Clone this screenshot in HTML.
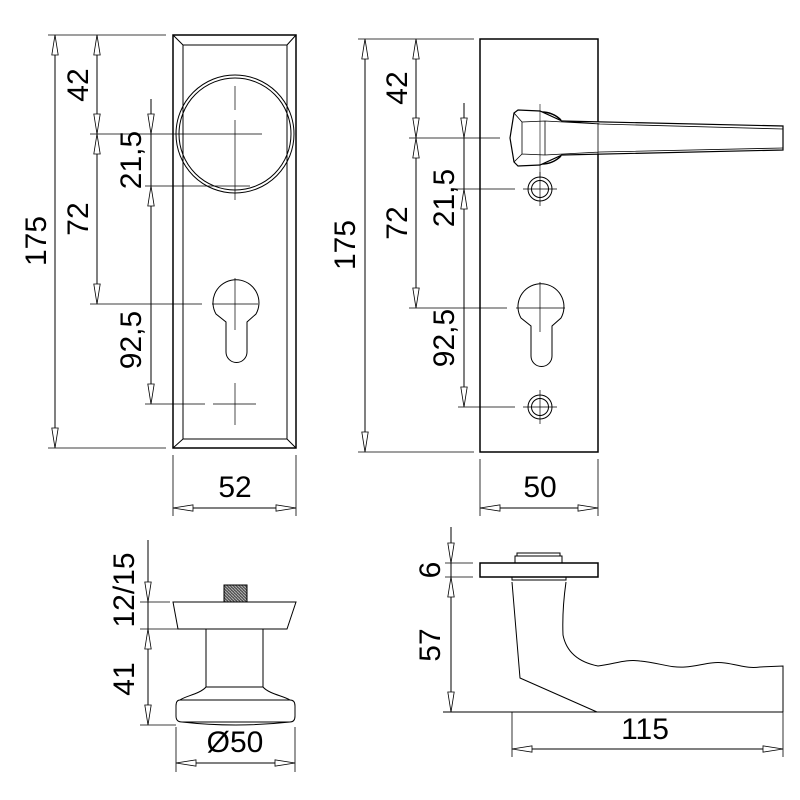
<!DOCTYPE html>
<html><head><meta charset="utf-8"><style>
body{margin:0;background:#fff}
svg{display:block}
text{font-family:"Liberation Sans",sans-serif;font-size:30px;fill:#000}
</style></head><body>
<svg width="800" height="800" viewBox="0 0 800 800" xmlns="http://www.w3.org/2000/svg">
<defs>
<marker id="a" markerUnits="userSpaceOnUse" markerWidth="24" markerHeight="10" viewBox="-22 -5 24 10" refX="0" refY="0" orient="auto-start-reverse">
<path d="M0,0 L-20,-3.2 L-20,3.2 Z" fill="#fff" stroke="#000" stroke-width="0.8"/>
</marker>
<pattern id="h" width="3" height="3" patternUnits="userSpaceOnUse"><rect width="3" height="3" fill="#555"/><path d="M0 0L3 3" stroke="#bbb" stroke-width="0.8"/></pattern>
</defs>
<g fill="none" stroke="#000" stroke-width="1">
<rect x="173" y="35" width="123" height="413" stroke-width="1.5"/>
<rect x="183" y="45" width="104" height="394"/>
<path d="M173 35L183 45M296 35L287 45M173 448L183 439M296 448L287 439"/>
<circle cx="235" cy="134" r="59"/>
<circle cx="235" cy="134" r="56"/>
<path d="M200 134H262M235 86V110M235 120V200" stroke-width="0.7"/>
<path d="M213 304A23 23 0 1 1 256 314L247 322V352A10.5 10.5 0 0 1 226 352V322L216 314A23 23 0 0 1 213 304Z"/>
<path d="M212 304H258M235 278V330" stroke-width="0.7"/>
<path d="M213 404H256M235 383V425" stroke-width="0.7"/>
<path d="M48 35H166M48 448H166M90 134H200M145 186H250M90 304H202M145 404H205" stroke-width="0.8"/>
<line x1="55" y1="35" x2="55" y2="448" marker-start="url(#a)" marker-end="url(#a)"/>
<line x1="97" y1="35" x2="97" y2="134" marker-start="url(#a)" marker-end="url(#a)"/>
<line x1="97" y1="134" x2="97" y2="304" marker-start="url(#a)" marker-end="url(#a)"/>
<line x1="151" y1="99" x2="151" y2="134" marker-end="url(#a)"/>
<line x1="151" y1="134" x2="151" y2="186"/>
<line x1="151" y1="186" x2="151" y2="404" marker-start="url(#a)" marker-end="url(#a)"/>
<path d="M173 455V516M296 455V516" stroke-width="0.8"/>
<line x1="173" y1="508" x2="296" y2="508" marker-start="url(#a)" marker-end="url(#a)"/>

<rect x="480" y="39" width="118" height="413" stroke-width="1.5"/>
<circle cx="540" cy="189" r="12"/><circle cx="540" cy="189" r="8.5"/>
<circle cx="540" cy="407" r="12"/><circle cx="540" cy="407" r="8.5"/>
<path d="M523 189H557M540 172V206M523 407H557M540 390V424" stroke-width="0.7"/>
<path d="M518 308A23 23 0 1 1 561 318L552 326V356A10.5 10.5 0 0 1 531 356V326L521 318A23 23 0 0 1 518 308Z"/>
<path d="M516 308H565M540 282V332" stroke-width="0.7"/>
<path d="M540 112A28 28 0 0 1 561 120M540 164A28 28 0 0 0 561 156" stroke-width="1.5"/>
<path d="M514 113L518 110L540 111L562 121L783 126V150L562 155L540 165L518 166L514 162L510 138Z" fill="#fff" stroke-width="1.2"/>
<path d="M522 122L545 121L600 124L783 129M522 154L545 155L600 152L783 148M522 122V154M514 113L522 122M514 162L522 154M545 121V155M598 123V154M563 121L600 124" stroke-width="0.8"/>
<path d="M540 104V178" stroke-width="0.6"/>
<path d="M358 39H474M358 452H474M409 138H500M455 189H515M409 308H507M458 407H515" stroke-width="0.8"/>
<line x1="365" y1="39" x2="365" y2="452" marker-start="url(#a)" marker-end="url(#a)"/>
<line x1="416" y1="39" x2="416" y2="138" marker-start="url(#a)" marker-end="url(#a)"/>
<line x1="416" y1="138" x2="416" y2="308" marker-start="url(#a)" marker-end="url(#a)"/>
<line x1="464" y1="103" x2="464" y2="138" marker-end="url(#a)"/>
<line x1="464" y1="138" x2="464" y2="189"/>
<line x1="464" y1="189" x2="464" y2="407" marker-start="url(#a)" marker-end="url(#a)"/>
<path d="M480 459V516M598 459V516" stroke-width="0.8"/>
<line x1="480" y1="508" x2="598" y2="508" marker-start="url(#a)" marker-end="url(#a)"/>

<rect x="224" y="585" width="23" height="17" fill="url(#h)" stroke="#000"/>
<path d="M173 602H296L287 629H178Z" fill="#fff"/>
<path d="M206 629V687M263 629V687M206 687H263"/>
<path d="M206 687C200 694 185 696 180 700M263 687C269 694 284 696 290 700"/>
<path d="M180 700Q176 700 176 706V716Q176 722 182 722H290Q295 722 295 716V706Q295 700 290 700Z"/>
<path d="M180 700H290M182 722Q235 728 290 722"/>
<path d="M140 602H170M140 629H178M140 725H176" stroke-width="0.8"/>
<line x1="148" y1="540" x2="148" y2="602" marker-end="url(#a)"/>
<line x1="148" y1="602" x2="148" y2="629"/>
<line x1="148" y1="629" x2="148" y2="725" marker-start="url(#a)" marker-end="url(#a)"/>
<path d="M176 727V772M295 727V772" stroke-width="0.8"/>
<line x1="176" y1="763" x2="295" y2="763" marker-start="url(#a)" marker-end="url(#a)"/>

<rect x="480" y="563" width="118" height="14" stroke-width="1.5"/>
<path d="M515 563V556H562V563M517 556V553H560V556"/>
<path d="M512 577V580H566V577"/>
<path d="M512 582L520 678L597 712"/>
<path d="M566 582Q562 610 563 635Q568 660 598 666C615 664 625 659 640 661C660 663 670 668 685 667C700 666 710 661 725 663C740 665 748 669 760 667L783 666V712"/>
<path d="M443 712H783" stroke-width="1"/>
<path d="M445 563H473M445 577H473" stroke-width="0.8"/>
<line x1="451" y1="527" x2="451" y2="563" marker-end="url(#a)"/>
<line x1="451" y1="563" x2="451" y2="577"/>
<line x1="451" y1="577" x2="451" y2="712" marker-start="url(#a)" marker-end="url(#a)"/>
<path d="M512 712V757M783 712V757" stroke-width="0.8"/>
<line x1="512" y1="749" x2="783" y2="749" marker-start="url(#a)" marker-end="url(#a)"/>
</g>

<g text-anchor="middle">
<text transform="translate(46,241) rotate(-90)">175</text>
<text transform="translate(88,85) rotate(-90)">42</text>
<text transform="translate(88,219) rotate(-90)">72</text>
<text transform="translate(141,160) rotate(-90)">21,5</text>
<text transform="translate(141,340) rotate(-90)">92,5</text>
<text x="235" y="497">52</text>
<text transform="translate(355,245) rotate(-90)">175</text>
<text transform="translate(407,88) rotate(-90)">42</text>
<text transform="translate(407,223) rotate(-90)">72</text>
<text transform="translate(454,198) rotate(-90)">21,5</text>
<text transform="translate(454,338) rotate(-90)">92,5</text>
<text x="540" y="497">50</text>
<text transform="translate(134,590) rotate(-90)">12/15</text>
<text transform="translate(134,679) rotate(-90)">41</text>
<text x="235" y="752">Ø50</text>
<text transform="translate(440,570) rotate(-90)">6</text>
<text transform="translate(440,645) rotate(-90)">57</text>
<text x="645" y="739">115</text>
</g>
</svg>
</body></html>
